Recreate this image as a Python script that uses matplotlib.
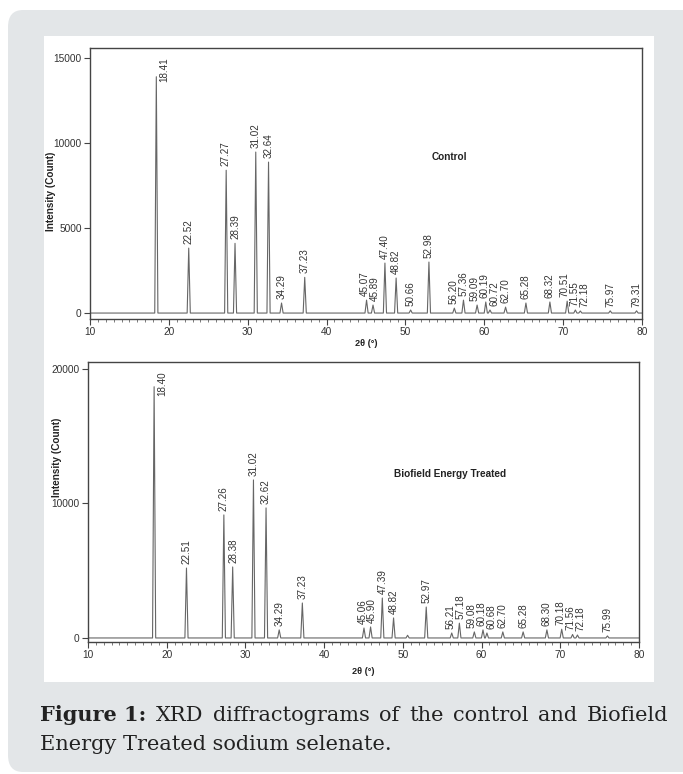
import numpy as np
import matplotlib
matplotlib.use("Agg")
import matplotlib.pyplot as plt
from matplotlib.patches import FancyBboxPatch, Rectangle

# peaks: 2theta (deg), intensity (count)
ctrl_pos = [18.41, 22.52, 27.27, 28.39, 31.02, 32.64, 34.29, 37.23, 45.07, 45.89,
            47.40, 48.82, 50.66, 52.98, 56.20, 57.36, 59.09, 60.19, 60.72, 62.70,
            65.28, 68.32, 70.51, 71.55, 72.18, 75.97, 79.31]
ctrl_int = [13900, 3820, 8400, 4100, 9470, 8880, 590, 2100, 760, 470,
            2940, 2060, 180, 3000, 290, 760, 470, 650, 180, 350,
            590, 650, 700, 180, 120, 130, 130]
ctrl_lbl = ["18.41", "22.52", "27.27", "28.39", "31.02", "32.64", "34.29", "37.23", "45.07", "45.89",
            "47.40", "48.82", "50.66", "52.98", "56.20", "57.36", "59.09", "60.19", "60.72", "62.70",
            "65.28", "68.32", "70.51", "71.55", "72.18", "75.97", "79.31"]

# peaks
trt_pos = [18.40, 22.51, 27.26, 28.38, 31.02, 32.62, 34.29, 37.23, 45.06, 45.90,
           47.39, 48.82, 52.97, 56.21, 57.18, 59.08, 60.18, 60.68, 62.70, 65.28,
           68.30, 70.18, 71.56, 72.18, 75.99]
trt_int = [18680, 5200, 9150, 5280, 11750, 9670, 600, 2600, 740, 820,
           2970, 1490, 2300, 370, 1100, 450, 600, 370, 450, 450,
           600, 650, 260, 220, 150]
trt_lbl = ["18.40", "22.51", "27.26", "28.38", "31.02", "32.62", "34.29", "37.23", "45.06", "45.90",
           "47.39", "48.82", "52.97", "56.21", "57.18", "59.08", "60.18", "60.68", "62.70", "65.28",
           "68.30", "70.18", "71.56", "72.18", "75.99"]
# small unlabelled bump near 50.6 in treated pattern
trt_extra_pos = [50.60]
trt_extra_int = [200]

caption_line1 = ["XRD", "diffractograms", "of", "the", "control", "and", "Biofield"]
caption_line2 = "Energy Treated sodium selenate."

W, H = 683, 774
LINE = "#666666"
TXT = "#333333"
FONT = "Liberation Sans"
SERIF = "DejaVu Serif"


def profile(pos, inten, hw=0.2):
    xs, ys = [10.0], [0.0]
    for p, h in sorted(zip(pos, inten)):
        xs += [p - hw, p, p + hw]
        ys += [0.0, h, 0.0]
    xs.append(80.0)
    ys.append(0.0)
    return np.array(xs), np.array(ys)


def spread(xs, mind=1.25):
    xs = list(xs)
    for _ in range(60):
        for i in range(len(xs) - 1):
            gap = xs[i + 1] - xs[i]
            if gap < mind:
                d = (mind - gap) / 2
                xs[i] -= d
                xs[i + 1] += d
    return xs


def draw_pattern(ax, pos, inten, labels, ylim, yticks, name, name_xy, ylab_xy,
                 extra_pos=(), extra_int=()):
    x, y = profile(list(pos) + list(extra_pos), list(inten) + list(extra_int))
    ax.plot(x, y, color=LINE, lw=0.8)
    ax.set_xlim(10, 80)
    ax.set_ylim(*ylim)
    ax.set_xticks(range(10, 81, 10))
    ax.set_xticks(range(10, 81, 1), minor=True)
    ax.set_yticks(yticks)
    ax.tick_params(axis="both", which="major", direction="out", length=4, width=0.8,
                   labelsize=7.3, labelcolor=TXT, color="#444444", pad=2)
    ax.tick_params(axis="x", which="minor", direction="out", length=2.5, width=0.6, color="#666666")
    for lab in ax.get_xticklabels() + ax.get_yticklabels():
        lab.set_fontfamily(FONT)
    for s in ax.spines.values():
        s.set_color("#444444")
        s.set_linewidth(1.0)

    lx = spread(pos)
    for p, h, t, xl in zip(pos, inten, labels, lx):
        if h > 0.8 * ylim[1]:
            ax.annotate(t, (p, ylim[1]), xytext=(6, -7), textcoords="offset points",
                        rotation=90, ha="center", va="top", fontsize=7.1,
                        color=TXT, family=FONT)
        else:
            ax.annotate(t, (xl, h), xytext=(0, 3), textcoords="offset points",
                        rotation=90, ha="center", va="bottom", fontsize=7.1,
                        color=TXT, family=FONT)

    ax.text(name_xy[0], name_xy[1], name, ha="center", va="center", fontsize=7.2,
            fontweight="bold", color="#222222", family=FONT)
    ax.set_ylabel("Intensity (Count)", fontsize=7.2, fontweight="bold", color="#222222",
                  family=FONT)
    ax.yaxis.set_label_coords(*ylab_xy)
    ax.set_xlabel("2\u03b8 (\u00b0)", fontsize=6.6, fontweight="bold", color="#222222",
                  family=FONT)


fig = plt.figure(figsize=(W / 100, H / 100), dpi=100)
fig.patch.set_facecolor("white")

# grey rounded card and white inner panel
fig.patches.append(FancyBboxPatch((8 / W, 2 / H), 700 / W, 762 / H,
                                  boxstyle="round,pad=0,rounding_size=0.022",
                                  transform=fig.transFigure, facecolor="#e3e6e8",
                                  edgecolor="none", zorder=0))
fig.patches.append(Rectangle((44 / W, 1 - 682 / H), 610 / W, 646 / H,
                             transform=fig.transFigure, facecolor="white",
                             edgecolor="none", zorder=0.5))

ax1 = fig.add_axes([90 / W, 1 - 319 / H, 552 / W, 271 / H])
ax2 = fig.add_axes([88 / W, 1 - 642 / H, 551 / W, 280 / H])
for a in (ax1, ax2):
    a.set_facecolor("none")
    a.set_zorder(2)

draw_pattern(ax1, ctrl_pos, ctrl_int, ctrl_lbl, (-350, 15590), [0, 5000, 10000, 15000],
             "Control", (55.6, 9180), (-0.062, 0.47))
draw_pattern(ax2, trt_pos, trt_int, trt_lbl, (-300, 20520), [0, 10000, 20000],
             "Biofield Energy Treated", (56.0, 12190), (-0.047, 0.66),
             trt_extra_pos, trt_extra_int)
ax1.xaxis.set_label_coords(0.5, -0.072)
ax2.xaxis.set_label_coords(0.5, -0.088)

# caption, first line justified between the panel margins
cap_size = 15
x0, x1 = 40, 668
fig.canvas.draw()
r = fig.canvas.get_renderer()
words = [fig.text(0, 1 - 721 / H, "Figure 1:", fontsize=cap_size, fontweight="bold",
                  family=SERIF, color="#222222", va="baseline")]
for w in caption_line1:
    words.append(fig.text(0, 1 - 721 / H, w, fontsize=cap_size, family=SERIF,
                          color="#222222", va="baseline"))
widths = [t.get_window_extent(renderer=r).width for t in words]
gap = max((x1 - x0 - sum(widths)) / (len(words) - 1), 4)
cx = x0
for t, wd in zip(words, widths):
    t.set_x(cx / W)
    cx += wd + gap
fig.text(x0 / W, 1 - 750 / H, caption_line2, fontsize=cap_size,
         family=SERIF, color="#222222", va="baseline")

fig.savefig("out.png", dpi=100, facecolor="white")
